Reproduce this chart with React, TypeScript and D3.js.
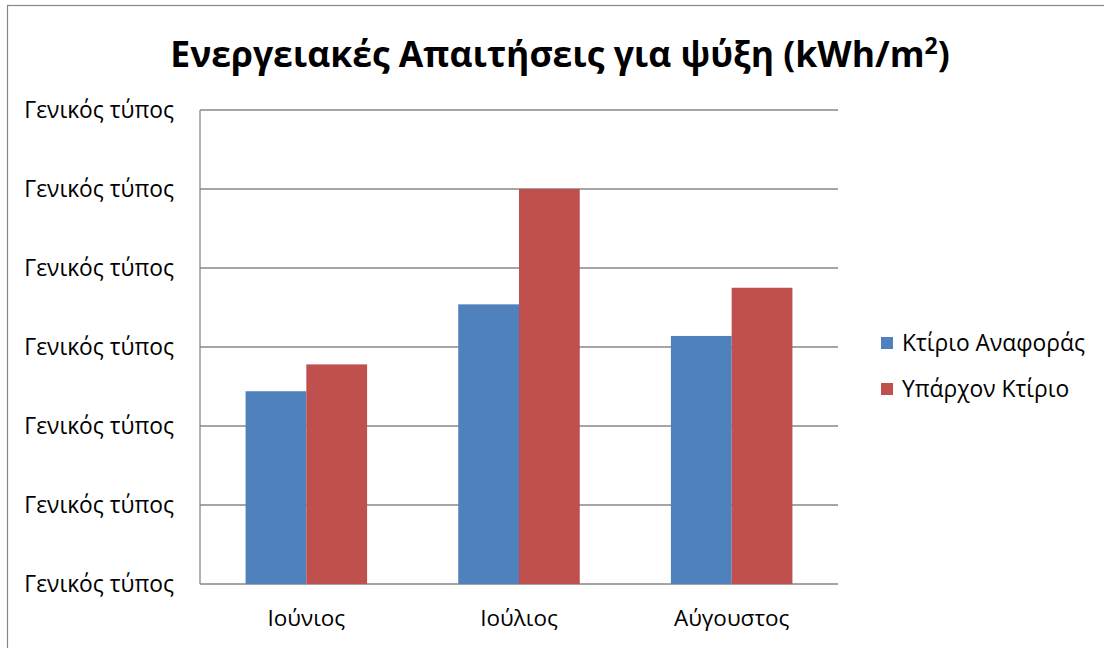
import React from "react";
import * as d3 from "d3";

const months = ["Ιούνιος", "Ιούλιος", "Αύγουστος"];
const seriesNames = ["Κτίριο Αναφοράς", "Υπάρχον Κτίριο"];
const referenceValues = [2.44, 3.54, 3.14];
const existingValues = [2.78, 5.0, 3.75];
const yTicks = [0, 1, 2, 3, 4, 5, 6];
const tickLabel = "Γενικός τύπος";
const colors = ["#4F81BD", "#C0504D"];

const App = () => {
    const width = 1104;
    const height = 648;
    const plot = { left: 200, right: 838, top: 110, bottom: 584 };
    const font = "'Open Sans', 'Noto Sans', sans-serif";

    const x = d3.scaleBand().domain(months).range([plot.left, plot.right]);
    const y = d3.scaleLinear().domain([0, 6]).range([plot.bottom, plot.top]);

    const bw = x.bandwidth() / 3.5;
    const series = [referenceValues, existingValues];

    return (
        <svg width={width} height={height} style={{ position: "absolute", left: 0, top: 0 }}>
            <rect x={0} y={0} width={width} height={height} fill="#fff" />
            <rect x={7.5} y={5.5} width={1200} height={700} fill="none" stroke="#878787" strokeWidth={1.2} />

            <text x={560} y={67} textAnchor="middle" fontFamily={font} fontWeight="bold" fontSize={35.5} fill="#000">
                Ενεργειακές Απαιτήσεις για ψύξη (kWh/m<tspan fontSize={23} dy={-13}>2</tspan><tspan dy={13}>)</tspan>
            </text>

            {/* gridlines */}
            {yTicks.map((t) => (
                <line key={t} x1={plot.left} x2={plot.right} y1={y(t)} y2={y(t)} stroke="#878787" strokeWidth={1.3} />
            ))}
            <line x1={plot.left} x2={plot.left} y1={plot.top} y2={plot.bottom} stroke="#878787" strokeWidth={1.3} />

            {yTicks.map((t) => (
                <text key={t} x={174} y={y(t) + 8} textAnchor="end" fontFamily={font} fontSize={22.8} fill="#000">
                    {tickLabel}
                </text>
            ))}

            {/* bars */}
            {series.map((vals, si) =>
                vals.map((v, i) => (
                    <rect
                        key={si + "-" + i}
                        x={(x(months[i]) as number) + bw * 0.75 + si * bw}
                        y={y(v)}
                        width={bw}
                        height={y(0) - y(v)}
                        fill={colors[si]}
                    />
                ))
            )}

            {months.map((m) => (
                <text key={m} x={(x(m) as number) + x.bandwidth() / 2} y={626} textAnchor="middle" fontFamily={font} fontSize={22.5} fill="#000">
                    {m}
                </text>
            ))}

            {/* legend */}
            {seriesNames.map((s, i) => (
                <g key={s} transform={`translate(881, ${337 + i * 46})`}>
                    <rect x={0} y={0} width={12} height={12} fill={colors[i]} />
                    <text x={21} y={14} fontFamily={font} fontSize={22.8} fill="#000">{s}</text>
                </g>
            ))}
        </svg>
    );
};

export default App;
